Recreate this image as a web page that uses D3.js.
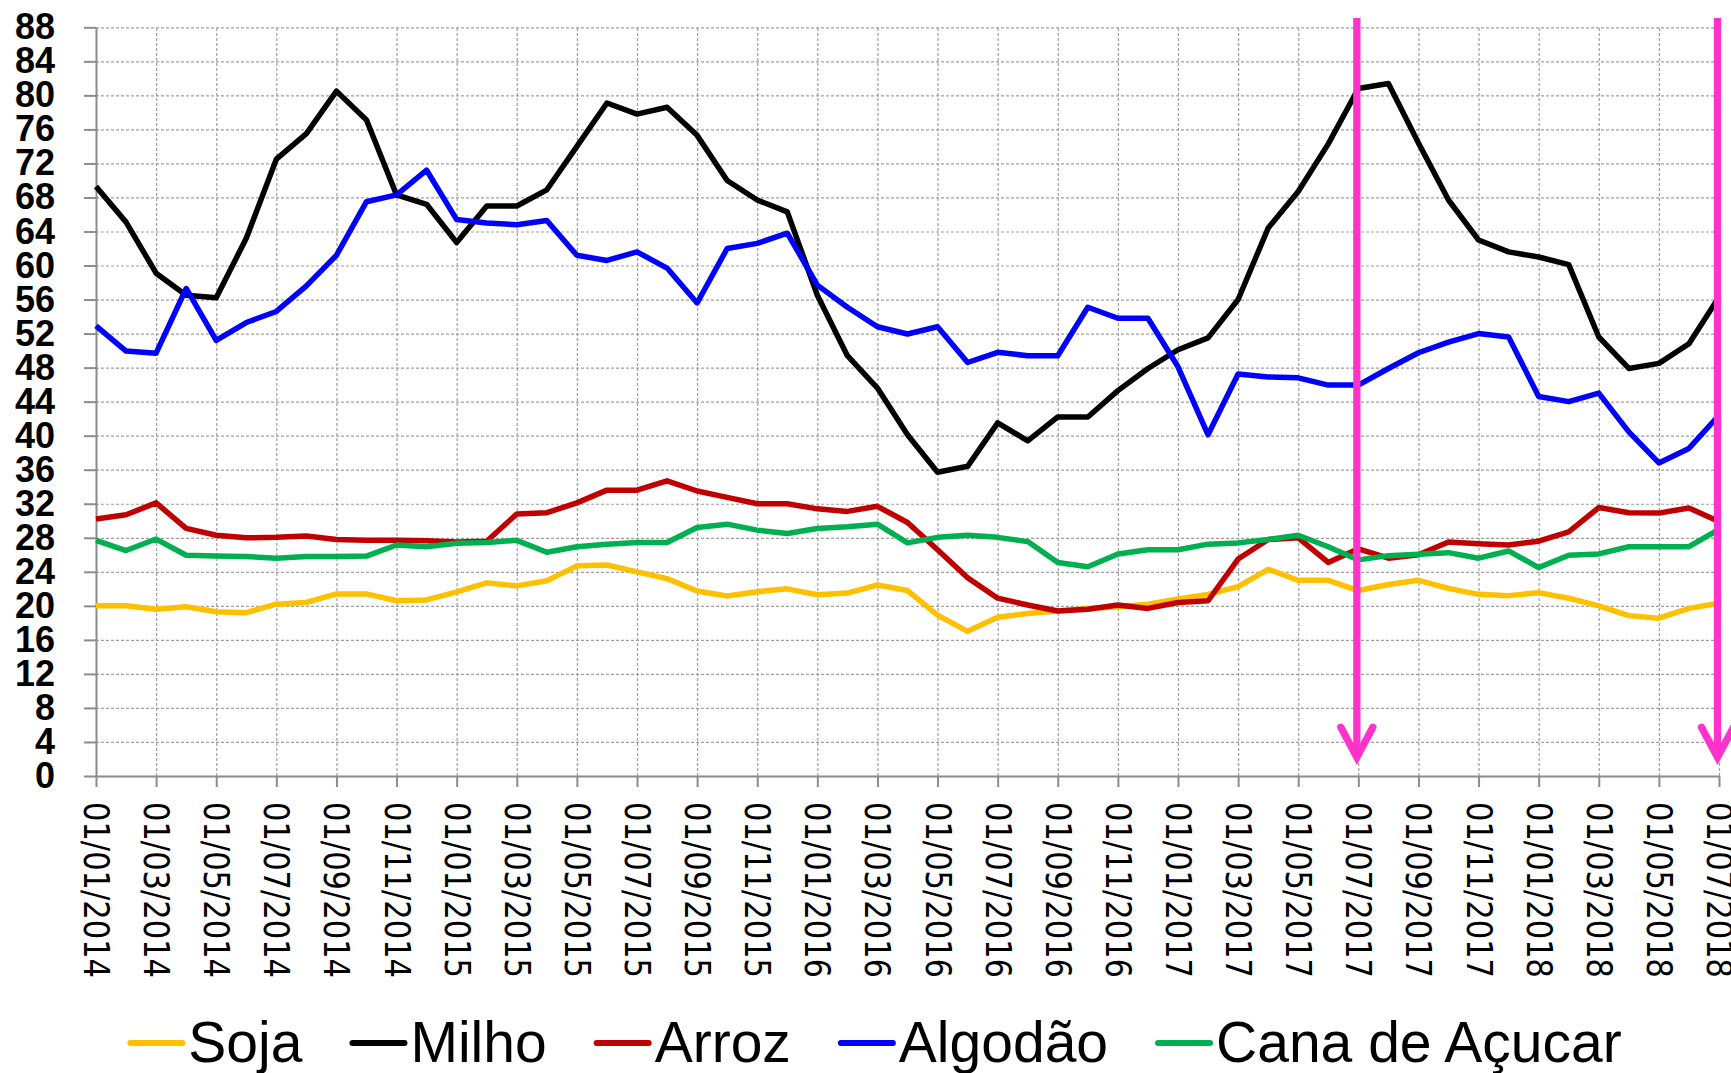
<!DOCTYPE html>
<html>
<head>
<meta charset="utf-8">
<script src="https://cdn.jsdelivr.net/npm/d3@7/dist/d3.min.js"></script>
<style>
body { margin: 0; background: #fff; }
</style>
</head>
<body>
<script>
var WIDTH = 1731, HEIGHT = 1073;

// monthly dates, 01/01/2014 .. 01/07/2018
var MONTHS = d3.utcMonth.range(new Date(Date.UTC(2014, 0, 1)), new Date(Date.UTC(2018, 7, 1)));
var fmt = d3.utcFormat("%d/%m/%Y");
var MONTH_LABELS = MONTHS.map(fmt);
var TICK_LABELS = MONTH_LABELS.filter((d, i) => i % 2 === 0);
var Y_TICKS = d3.range(0, 89, 4);

var SERIES_NAMES = ["Soja", "Milho", "Arroz", "Algodão", "Cana de Açucar"];

var SOJA = [20.0, 20.0, 19.6, 19.9, 19.3, 19.2, 20.2, 20.4, 21.4, 21.4, 20.6, 20.7, 21.65, 22.7, 22.35, 22.95, 24.7,
	24.8, 24.0, 23.2, 21.75, 21.15, 21.65, 22.0, 21.3, 21.5, 22.45, 21.8, 18.9, 17.0, 18.65, 19.1, 19.4, 19.7, 19.9, 20.2,
	20.8, 21.35, 22.25, 24.3, 23.0, 23.0, 21.8, 22.5, 23.0, 22.05, 21.35, 21.2, 21.55, 20.9, 20.0, 18.85, 18.55, 19.7, 20.3];

var MILHO = [69.3, 65.1, 59.1, 56.5, 56.2, 63.2, 72.5, 75.5, 80.5, 77.1, 68.3, 67.2, 62.7, 67.0, 67.0, 68.9, 74.0,
	79.1, 77.8, 78.6, 75.3, 70.0, 67.7, 66.3, 56.5, 49.4, 45.6, 40.1, 35.7, 36.4, 41.5, 39.4, 42.2, 42.2, 45.3, 47.9,
	50.1, 51.5, 56.0, 64.4, 68.7, 74.3, 80.8, 81.4, 74.4, 67.7, 63.0, 61.6, 61.0, 60.1, 51.6, 47.9, 48.5, 50.8, 56.3];

var ARROZ = [30.2, 30.7, 32.1, 29.1, 28.3, 28.0, 28.05, 28.2, 27.8, 27.7, 27.7, 27.65, 27.5, 27.6, 30.8, 30.95, 32.1,
	33.6, 33.6, 34.7, 33.5, 32.75, 32.0, 32.0, 31.4, 31.1, 31.7, 29.8, 26.6, 23.3, 20.9, 20.1, 19.4, 19.6, 20.1, 19.7,
	20.4, 20.6, 25.5, 27.8, 28.0, 25.1, 26.7, 25.6, 26.0, 27.5, 27.3, 27.15, 27.6, 28.7, 31.55, 30.95, 30.9, 31.5, 29.9];

var ALGODAO = [52.9, 49.95, 49.7, 57.3, 51.2, 53.3, 54.6, 57.6, 61.2, 67.5, 68.3, 71.2, 65.4, 65.0, 64.8, 65.3, 61.2,
	60.6, 61.6, 59.7, 55.6, 62.0, 62.6, 63.8, 57.7, 55.1, 52.8, 51.95, 52.8, 48.6, 49.8, 49.4, 49.4, 55.1, 53.8, 53.8,
	48.1, 40.1, 47.25, 46.9, 46.8, 45.95, 45.95, 47.9, 49.75, 51.0, 52.0, 51.6, 44.6, 44.0, 45.0, 40.45, 36.8, 38.5, 42.4];

var CANA = [27.7, 26.5, 27.85, 25.95, 25.85, 25.8, 25.6, 25.8, 25.8, 25.85, 27.15, 26.95, 27.35, 27.45, 27.7, 26.3, 26.95,
	27.25, 27.45, 27.45, 29.2, 29.6, 28.9, 28.5, 29.1, 29.3, 29.6, 27.4, 28.05, 28.3, 28.05, 27.55, 25.1, 24.6, 26.1, 26.6,
	26.6, 27.25, 27.4, 27.8, 28.3, 26.95, 25.4, 25.9, 26.05, 26.25, 25.6, 26.45, 24.5, 25.95, 26.1, 26.95, 26.95, 26.95, 29.0];

var SERIES = [SOJA, MILHO, ARROZ, ALGODAO, CANA];
var COLORS = ["#FFC000", "#000000", "#C00000", "#0000FF", "#00B050"];

// pink markers (dates of the vertical arrows)
var ARROW_DATES = ["01/07/2017", "01/07/2018"];
var ARROW_RANGE = [89.1, 2.2];

var margin = {left: 96, right: WIDTH - 1719, top: 27.3, bottom: HEIGHT - 776};

var svg = d3.select("body").append("svg")
	.attr("width", WIDTH)
	.attr("height", HEIGHT)
	.style("display", "block");

var x = d3.scalePoint()
	.domain(MONTH_LABELS)
	.range([margin.left, WIDTH - margin.right]);

var y = d3.scaleLinear()
	.domain([0, 88])
	.range([HEIGHT - margin.bottom, margin.top]);

var plotW = WIDTH - margin.left - margin.right;
var plotH = HEIGHT - margin.top - margin.bottom;

// grid
var grid = svg.append("g").attr("class", "grid");
grid.append("g")
	.attr("transform", `translate(${margin.left},0)`)
	.call(d3.axisLeft(y).tickValues(Y_TICKS.slice(1)).tickSize(-plotW).tickFormat(""))
	.call(g => g.select(".domain").remove());
grid.append("g")
	.attr("transform", `translate(0,${HEIGHT - margin.bottom})`)
	.call(d3.axisBottom(x).tickValues(TICK_LABELS.slice(1)).tickSize(plotH).tickFormat(""))
	.call(g => g.select(".domain").remove())
	.selectAll("line").attr("y2", -plotH);
grid.selectAll("line")
	.attr("stroke", "#a0a0a0")
	.attr("stroke-width", 1.2)
	.attr("stroke-dasharray", "3,2");

// axes
var yAxis = svg.append("g")
	.attr("transform", `translate(${margin.left},0)`)
	.call(d3.axisLeft(y).tickValues(Y_TICKS).tickSize(12).tickSizeOuter(0).tickPadding(29));
yAxis.selectAll("text")
	.style("font-family", '"Liberation Sans", Arial, sans-serif')
	.style("font-weight", "bold")
	.style("font-size", "36px")
	.attr("fill", "#000");

var xAxis = svg.append("g")
	.attr("transform", `translate(0,${HEIGHT - margin.bottom})`)
	.call(d3.axisBottom(x).tickValues(TICK_LABELS).tickSize(11).tickSizeOuter(0));
xAxis.selectAll("text")
	.attr("x", 0)
	.attr("y", 0)
	.attr("dy", null)
	.attr("transform", "translate(0,26) rotate(90)")
	.attr("text-anchor", "start")
	.attr("dominant-baseline", "central")
	.attr("textLength", 176)
	.attr("lengthAdjust", "spacingAndGlyphs")
	.style("font-family", '"DejaVu Sans", sans-serif')
	.style("font-size", "36px")
	.attr("fill", "#000");

svg.selectAll(".domain, .tick line")
	.filter(function(){ return !this.closest(".grid"); })
	.attr("stroke", "#8c8c8c")
	.attr("stroke-width", 2);

// series
var line = d3.line()
	.x((d, i) => x(MONTH_LABELS[i]))
	.y(d => y(d));

svg.append("g").attr("class", "series")
	.selectAll("path")
	.data(SERIES)
	.enter()
	.append("path")
	.attr("d", line)
	.attr("fill", "none")
	.attr("stroke", (d, i) => COLORS[i])
	.attr("stroke-width", 5.5)
	.attr("stroke-linejoin", "round");

// pink arrows
var arrows = svg.append("g").attr("class", "arrows")
	.selectAll("g")
	.data(ARROW_DATES)
	.enter()
	.append("g");
arrows.append("line")
	.attr("x1", d => x(d) - 1.5)
	.attr("x2", d => x(d) - 1.5)
	.attr("y1", y(ARROW_RANGE[0]))
	.attr("y2", y(ARROW_RANGE[1]) - 3)
	.attr("stroke-linecap", "butt");
arrows.append("polyline")
	.attr("points", d => {
		var ax = x(d) - 1.5, ay = y(ARROW_RANGE[1]);
		return `${ax - 16},${ay - 30} ${ax},${ay} ${ax + 16},${ay - 30}`;
	})
	.attr("fill", "none")
	.attr("stroke-linecap", "round")
	.attr("stroke-linejoin", "miter");
arrows.selectAll("line, polyline")
	.attr("stroke", "#FF33CC")
	.attr("stroke-width", 7.3);

// legend
var legend = svg.append("g").attr("class", "legend");
var items = legend.selectAll("g")
	.data(SERIES_NAMES)
	.enter()
	.append("g");
items.append("line")
	.attr("x1", 0).attr("x2", 52)
	.attr("y1", 0).attr("y2", 0)
	.attr("stroke", (d, i) => COLORS[i])
	.attr("stroke-width", 6)
	.attr("stroke-linecap", "round");
items.append("text")
	.attr("x", 58)
	.attr("y", 19)
	.style("font-family", '"Liberation Sans", Arial, sans-serif')
	.style("font-size", "57px")
	.attr("fill", "#000")
	.text(d => d);

var widths = [];
items.each(function(){ widths.push(58 + d3.select(this).select("text").node().getComputedTextLength()); });
var gap = 50;
var total = d3.sum(widths) + gap * (widths.length - 1);
var lx = 876 - total / 2;
items.attr("transform", (d, i) => {
	var tx = lx;
	lx += widths[i] + gap;
	return `translate(${tx},1043)`;
});
</script>
</body>
</html>
